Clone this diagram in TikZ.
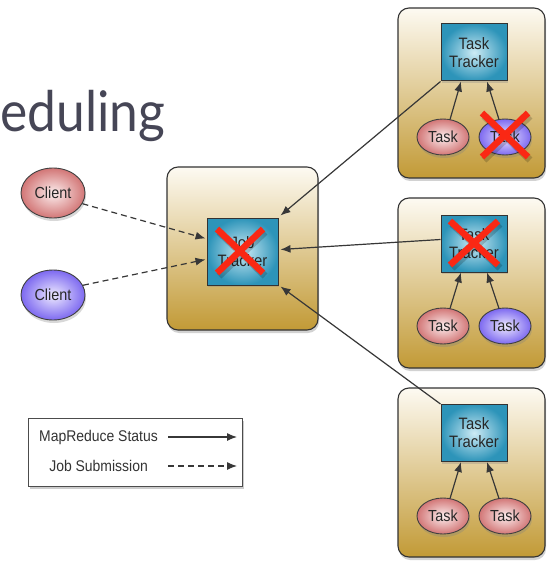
\documentclass[tikz,border=0pt]{standalone}
\usepackage{fontspec}
\setmainfont{Liberation Sans}
\newfontfamily\labfont[FakeStretch=0.9]{Liberation Sans}
\newfontfamily\titlefont[FakeStretch=0.92]{Lato}
\usetikzlibrary{shapes.geometric,arrows.meta,shadows}
\definecolor{goldtop}{RGB}{253,250,242}
\definecolor{goldmid}{RGB}{232,212,162}
\definecolor{goldbot}{RGB}{194,154,54}
\definecolor{tealin}{RGB}{205,235,245}
\definecolor{tealout}{RGB}{45,148,185}
\definecolor{pinkin}{RGB}{252,238,238}
\definecolor{pinkout}{RGB}{210,118,118}
\definecolor{bluein}{RGB}{238,234,255}
\definecolor{blueout}{RGB}{125,105,240}
\definecolor{xred}{RGB}{250,40,20}
\definecolor{titlecol}{RGB}{70,70,86}
\definecolor{linecol}{RGB}{55,55,55}
\tikzset{
  container/.style={draw=black!80, line width=1.1pt, rounded corners=11pt,
    top color=goldtop, middle color=goldmid, bottom color=goldbot,
    drop shadow={shadow xshift=1pt, shadow yshift=-3pt, opacity=0.35}},
  tracker/.style={draw=black!80, line width=1pt, inner color=tealin, outer color=tealout,
    align=center, font=\labfont\fontsize{16.5}{18}\selectfont, text=black!85,
    drop shadow={shadow xshift=1pt, shadow yshift=-2pt, opacity=0.3}},
  pinkell/.style={ellipse, draw=black!75, line width=0.9pt, inner color=pinkin, outer color=pinkout,
    font=\labfont\fontsize{16}{17}\selectfont, text=black!85, inner sep=0pt,
    drop shadow={shadow xshift=1pt, shadow yshift=-3pt, opacity=0.3}},
  blueell/.style={pinkell, inner color=bluein, outer color=blueout},
  status/.style={draw=linecol, line width=1.2pt, -{Latex[length=10pt,width=8pt]}},
  submit/.style={status, dash pattern=on 6pt off 4pt},
  redx/.style={draw=xred, line width=6.5pt},
  redxshadow/.style={draw=black, opacity=0.18, line width=7pt},
  legendbox/.style={draw=black!70, line width=1pt, fill=white,
    drop shadow={shadow xshift=2pt, shadow yshift=-3pt, opacity=0.4}},
  legtext/.style={font=\labfont\fontsize{15.5}{17}\selectfont, text=black!80, inner sep=0pt}
}
\begin{document}
\begin{tikzpicture}[x=1pt,y=-1pt]
\useasboundingbox[fill=white] (0,0) rectangle (546,561);

% title fragment
\node[anchor=base west, inner sep=0pt, text=titlecol, font=\titlefont\fontsize{56}{60}\selectfont] (title) at (0,132) {eduling};

% containers
\node[container, minimum width=151pt, minimum height=163pt] (jtbox) at (242.5,248.5) {};
\node[container, minimum width=147pt, minimum height=170pt] (box1) at (471.5,93) {};
\node[container, minimum width=147pt, minimum height=170pt] (box2) at (471.5,283) {};
\node[container, minimum width=147pt, minimum height=169pt] (box3) at (471.5,472.5) {};

% job tracker
\node[tracker, minimum width=71pt, minimum height=67pt] (jt) at (242.5,251.5) {Job\\Tracker};

% task trackers
\node[tracker, minimum width=66pt, minimum height=57pt] (tt1) at (474,52.5) {Task\\Tracker};
\node[tracker, minimum width=66pt, minimum height=57pt] (tt2) at (474,243.5) {Task\\Tracker};
\node[tracker, minimum width=66pt, minimum height=57pt] (tt3) at (474,433) {Task\\Tracker};

% tasks
\node[pinkell, minimum width=52pt, minimum height=36pt] (ta1) at (443,137) {Task};
\node[blueell, minimum width=52pt, minimum height=36pt] (tb1) at (505,137) {Task};
\node[pinkell, minimum width=52pt, minimum height=36pt] (ta2) at (443,326) {Task};
\node[blueell, minimum width=52pt, minimum height=36pt] (tb2) at (505,326) {Task};
\node[pinkell, minimum width=52pt, minimum height=36pt] (ta3) at (443,516) {Task};
\node[pinkell, minimum width=52pt, minimum height=36pt] (tb3) at (505,516) {Task};

% clients
\node[pinkell, minimum width=64pt, minimum height=50pt] (c1) at (53,193) {Client};
\node[blueell, minimum width=64pt, minimum height=50pt] (c2) at (53,295) {Client};

% task -> task tracker arrows
\foreach \i in {1,2,3}{
  \draw[status] ([shift={(7,1)}]ta\i.north) -- ([xshift=-13pt]tt\i.south);
  \draw[status] ([shift={(-6,1)}]tb\i.north) -- ([xshift=13pt]tt\i.south);
}

% task tracker -> job tracker
\draw[status] (tt1.south west) -- ([shift={(2,-2)}]jt.north east);
\draw[status] ([yshift=4pt]tt2.west) -- ([shift={(2,-2)}]jt.east);
\draw[status] (tt3.north west) -- ([shift={(2,1)}]jt.south east);

% client -> job tracker
\draw[submit] (c1.-20) -- ([shift={(-1,-13)}]jt.west);
\draw[submit] (c2.18) -- ([shift={(-1,8)}]jt.west);

% red crosses
\foreach \cx/\cy/\hx/\hy in {240/251/23/22, 505/135/23/22, 474/243/24/22}{
  \draw[redxshadow] (\cx-\hx+2,\cy-\hy+3) -- (\cx+\hx+2,\cy+\hy+3);
  \draw[redxshadow] (\cx+\hx+2,\cy-\hy+3) -- (\cx-\hx+2,\cy+\hy+3);
  \draw[redx] (\cx-\hx,\cy-\hy) -- (\cx+\hx,\cy+\hy);
  \draw[redx] (\cx+\hx,\cy-\hy) -- (\cx-\hx,\cy+\hy);
}

% legend
\node[legendbox, minimum width=214pt, minimum height=68pt] (legend) at (135,452) {};
\node[legtext, anchor=east] (l1) at (158,437) {MapReduce Status};
\node[legtext, anchor=east] (l2) at (148,466) {Job Submission};
\coordinate (l1s) at (168,437);
\coordinate (l1e) at (237,437);
\coordinate (l2s) at (168,466);
\coordinate (l2e) at (237,466);
\draw[status] (l1s) -- (l1e);
\draw[submit] (l2s) -- (l2e);
\end{tikzpicture}
\end{document}
